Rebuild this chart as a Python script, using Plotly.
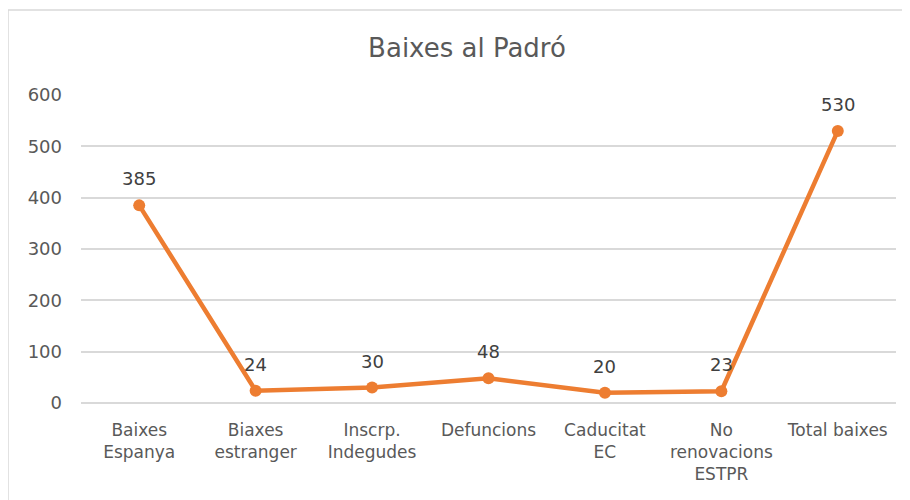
import plotly.graph_objects as go

categories = ["Baixes<br>Espanya", "Biaxes<br>estranger", "Inscrp.<br>Indegudes", "Defuncions",
              "Caducitat<br>EC", "No<br>renovacions<br>ESTPR", "Total baixes"]
values = [385, 24, 30, 48, 20, 23, 530]
y_ticks = [0, 100, 200, 300, 400, 500, 600]

FONT = "DejaVu Sans, sans-serif"

# page body adds ~8px offset; compensate
W, H = 902, 492
L, R, T, B = 73, 14, 87, 97
pw = W - L - R
ph = H - T - B

fig = go.Figure()
fig.add_trace(go.Scatter(
    x=categories, y=values, mode="lines+markers",
    line=dict(color="#ED7D31", width=4.5),
    marker=dict(color="#ED7D31", size=12),
    cliponaxis=False, showlegend=False,
))

for c, v in zip(categories, values):
    fig.add_annotation(x=c, y=v, text=str(v), showarrow=False, yanchor="bottom",
                       yshift=14, font=dict(size=18, color="#404040", family=FONT))

fig.update_layout(
    width=W, height=H,
    margin=dict(l=L, r=R, t=T, b=B),
    paper_bgcolor="white", plot_bgcolor="white",
    title=dict(text="Baixes al Padró", xref="paper", x=(459 - L) / pw, xanchor="center",
               yref="container", y=1 - 40 / H, yanchor="middle",
               font=dict(size=26, color="#595959", family=FONT)),
    xaxis=dict(range=[-0.5, 6.5], showgrid=False, showline=False, ticks="", zeroline=False,
               ticklabelstandoff=15,
               tickfont=dict(size=17, color="#595959", family=FONT)),
    yaxis=dict(range=[0, 600], tickvals=y_ticks, showgrid=True, gridcolor="#d9d9d9",
               gridwidth=1.5, zeroline=True, zerolinecolor="#d9d9d9", zerolinewidth=1.5,
               showline=False, ticks="", ticklabelstandoff=18,
               tickfont=dict(size=18, color="#595959", family=FONT)),
    shapes=[dict(type="rect", xref="paper", yref="paper",
                 x0=(0 - L) / pw, x1=(900 - L) / pw,
                 y0=-0.4, y1=(ph + T - 2) / ph,
                 line=dict(color="#d9d9d9", width=1.5), fillcolor="rgba(0,0,0,0)", layer="below")],
)

fig.write_html("out.html")
